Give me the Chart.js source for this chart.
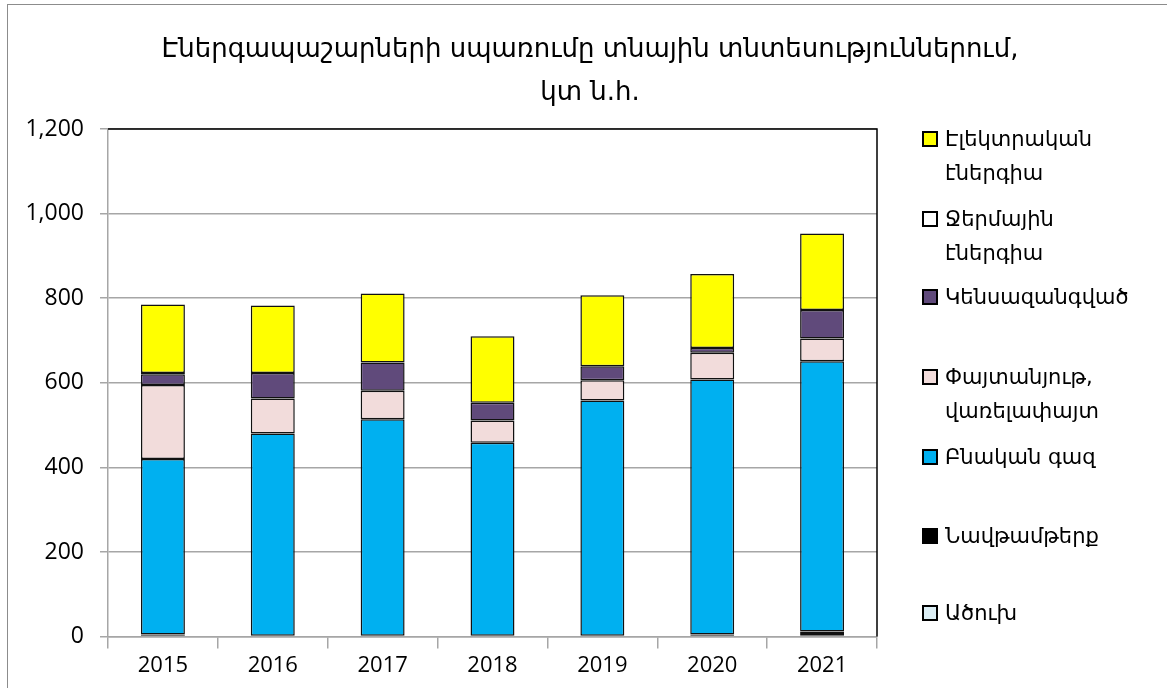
<!DOCTYPE html>
<html>
<head>
<meta charset="utf-8">
<script src="https://cdn.jsdelivr.net/npm/chart.js@4.4.1/dist/chart.umd.min.js"></script>
<style>
    html, body { margin: 0; padding: 0; background: #fff; }
    #wrap { position: relative; width: 1167px; height: 688px; overflow: hidden; }
    #frame { position: absolute; left: 7px; top: 4px; width: 1200px; height: 720px; border: 1px solid #8c8c8c; box-sizing: border-box; }
    canvas { position: absolute; left: 0; top: 0; }
    #title { position: absolute; left: 0; top: 27px; width: 1180px; text-align: center; font-family: "DejaVu Sans", sans-serif; font-size: 26px; line-height: 43px; color: #000; }
    .lg { position: absolute; left: 922px; font-family: "DejaVu Sans", sans-serif; font-size: 21px; color: #000; }
    .lg .box { position: absolute; left: 0; width: 16px; height: 16px; border: 2px solid #000; box-sizing: border-box; }
    .lg .txt { position: absolute; left: 23px; line-height: 34px; white-space: nowrap; }
</style>
</head>
<body>
<div id="wrap">
    <div id="frame"></div>
    <canvas id="energyChart" width="1167" height="688"></canvas>
    <div id="title">Էներգապաշարների սպառումը տնային տնտեսություններում,<br>կտ ն.հ.</div>
    <div id="legend"></div>
</div>
<script>
// Energy consumption by households, kt o.e.
const years = ["2015", "2016", "2017", "2018", "2019", "2020", "2021"];

const coal        = [0, 0, 0, 0, 0, 0, 6];
const oilProducts = [5, 0, 0, 0, 0, 5, 6];
const naturalGas  = [415, 480, 514, 458, 558, 603, 639];
const peatWood    = [175, 83, 67, 53, 48, 63, 54];
const biomass     = [25, 60, 67, 42, 33, 11, 67];
const thermal     = [3, 0, 0, 0, 0, 0, 0];
const electricity = [162, 160, 163, 157, 168, 175, 181];

const yTicks = [0, 200, 400, 600, 800, 1000, 1200];

// bottom -> top stacking order
const series = [
    { label: "Ածուխ", data: coal, color: "#dbeef4", legendY: 613, lines: ["Ածուխ"] },
    { label: "Նավթամթերք", data: oilProducts, color: "#000000", legendY: 536, lines: ["Նավթամթերք"] },
    { label: "Բնական գազ", data: naturalGas, color: "#00b0f0", legendY: 457, lines: ["Բնական գազ"] },
    { label: "Փայտանյութ, վառելափայտ", data: peatWood, color: "#f2dcdb", legendY: 377, lines: ["Փայտանյութ,", "վառելափայտ"] },
    { label: "Կենսազանգված", data: biomass, color: "#604a7b", legendY: 297, lines: ["Կենսազանգված"] },
    { label: "Ջերմային էներգիա", data: thermal, color: "#ffffff", legendY: 219, lines: ["Ջերմային", "էներգիա"] },
    { label: "Էլեկտրական էներգիա", data: electricity, color: "#ffff00", legendY: 139, lines: ["Էլեկտրական", "էներգիա"] }
];

const plotBorder = {
    id: "plotBorder",
    afterDatasetsDraw(chart) {
        const { ctx, chartArea } = chart;
        ctx.save();
        ctx.strokeStyle = "#000";
        ctx.lineWidth = 1.5;
        ctx.beginPath();
        ctx.moveTo(chartArea.left, chartArea.top);
        ctx.lineTo(chartArea.right, chartArea.top);
        ctx.lineTo(chartArea.right, chartArea.bottom);
        ctx.stroke();
        ctx.restore();
    }
};

new Chart(document.getElementById("energyChart"), {
    type: "bar",
    data: {
        labels: years,
        datasets: series.map(s => ({
            label: s.label,
            // empty segments are left out so they draw no border
            data: s.data.map(v => (v === 0 ? null : v)),
            backgroundColor: s.color,
            borderColor: "#111",
            borderWidth: 1.5,
            borderSkipped: false,
            categoryPercentage: 1.0,
            barPercentage: 0.4
        }))
    },
    options: {
        responsive: false,
        devicePixelRatio: 1,
        animation: false,
        layout: { padding: { left: 0, right: 290, top: 129, bottom: 5 } },
        plugins: {
            legend: { display: false },
            tooltip: { enabled: false },
            title: { display: false }
        },
        scales: {
            x: {
                stacked: true,
                grid: { offset: true, drawOnChartArea: false, color: "#a6a6a6", lineWidth: 1.5, tickLength: 12 },
                border: { color: "#a6a6a6", width: 1.5 },
                ticks: { color: "#000", font: { family: "Open Sans", size: 22 }, padding: 4 }
            },
            y: {
                stacked: true,
                min: yTicks[0],
                max: yTicks[yTicks.length - 1],
                afterBuildTicks: scale => { scale.ticks = yTicks.map(v => ({ value: v })); },
                afterFit: scale => { scale.width = 108; },
                grid: { color: "#a6a6a6", lineWidth: 1.5, tickLength: 8 },
                border: { color: "#a6a6a6", width: 1.5 },
                ticks: {
                    color: "#000",
                    font: { family: "Open Sans", size: 23 },
                    padding: 16,
                    callback: v => v.toLocaleString("en-US")
                }
            }
        }
    },
    plugins: [plotBorder]
});

// legend drawn as html to allow wrapped labels
const legendEl = document.getElementById("legend");
series.forEach(s => {
    const item = document.createElement("div");
    item.className = "lg";
    item.style.top = (s.legendY - 17) + "px";
    item.innerHTML = `<div class="box" style="top:9px;background:${s.color}"></div>` +
        `<div class="txt">${s.lines.join("<br>")}</div>`;
    legendEl.appendChild(item);
});
</script>
</body>
</html>
